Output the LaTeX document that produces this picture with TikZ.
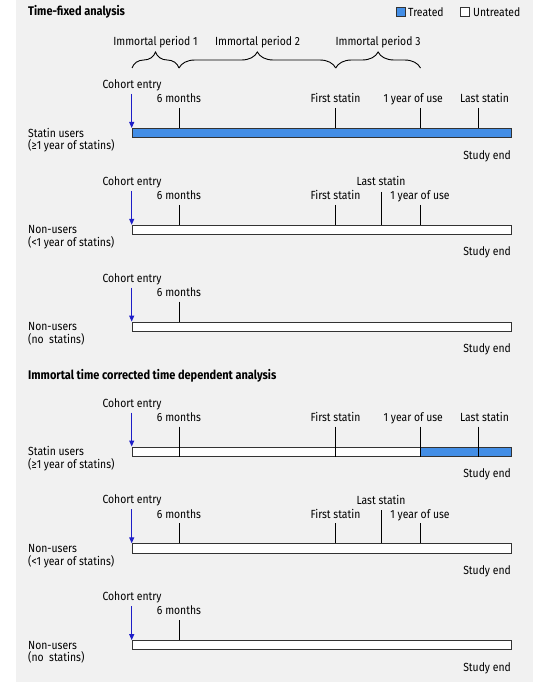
\documentclass[tikz,border=0pt]{standalone}
\usepackage{fontspec}
\setmainfont[FakeStretch=0.88]{Fira Sans}
\usetikzlibrary{arrows.meta,decorations.pathreplacing}
\definecolor{bgc}{RGB}{241,241,241}
\definecolor{treat}{RGB}{67,142,230}
\definecolor{arr}{RGB}{30,30,200}
\begin{document}
\begin{tikzpicture}[x=1pt,y=-1pt,
  font=\fontsize{11.8}{13}\selectfont,
  lbl/.style={inner sep=0, anchor=base},
  rowlbl/.style={inner sep=0, anchor=base west},
  endlbl/.style={inner sep=0, anchor=base east},
  ttl/.style={inner sep=0, anchor=base west, font=\fontsize{12.5}{14}\selectfont\bfseries},
  barnode/.style={draw=black!80, line width=1pt, fill=white, anchor=north west, inner sep=0,
     minimum width=379.3pt, minimum height=9.2pt},
  tck/.style={draw=black, line width=1pt},
  entry/.style={draw=arr, line width=1pt, -{Triangle[width=5pt,length=6pt]}},
  brc/.style={draw=black, line width=0.9pt, decorate, decoration={brace, amplitude=16pt}},
  lgbox/.style={draw=black!80, line width=0.9pt, minimum width=9.5pt, minimum height=8.5pt, inner sep=0}]
\useasboundingbox (0,0) rectangle (533,682);
\fill[bgc] (16,0) rectangle (533,682);
% header
\node[ttl] (t1) at (28,16) {Time-fixed analysis};
\node[lgbox, fill=treat] (lgT) at (400.8,12.2) {};
\node[rowlbl] (lgTt) at (408,16.2) {Treated};
\node[lgbox, fill=white] (lgU) at (464.8,12.2) {};
\node[rowlbl] (lgUt) at (473,16.2) {Untreated};
% immortal periods
\node[lbl] (ip1) at (155.5,45.8) {Immortal period 1};
\node[lbl] (ip2) at (257.5,45.8) {Immortal period 2};
\node[lbl] (ip3) at (378,45.8) {Immortal period 3};
\coordinate (br0) at (132,68);
\coordinate (br1) at (179,68);
\coordinate (br2) at (335.7,68);
\coordinate (br3) at (420.5,68);
\draw[brc] (br0) -- (br1);
\draw[brc] (br1) -- (br2);
\draw[brc] (br2) -- (br3);
% ---------- panel 1
\begin{scope}
\node[barnode, fill=treat] (b1) at (131.7,128) {};
\node[lbl] (ce1) at (132,88.6) {Cohort entry};
\coordinate (a1) at (131.7,94);
\draw[entry] (a1) -- (a1 |- b1.north);
\coordinate (m1) at (179,108);
\coordinate (f1) at (335.7,108);
\coordinate (y1) at (420,108);
\coordinate (l1) at (478.3,108);
\foreach \p in {m1,f1,y1,l1} \draw[tck] (\p) -- (\p |- b1.north);
\node[lbl] (m1t) at (179,102.8) {6 months};
\node[lbl] (f1t) at (335.5,102.8) {First statin};
\node[lbl] (y1t) at (413.3,102.8) {1 year of use};
\node[lbl] (l1t) at (484.5,102.8) {Last statin};
\node[endlbl] (se1) at (511,159.1) {Study end};
\node[rowlbl] (r1a) at (28,137.1) {Statin users};
\node[rowlbl] (r1b) at (28,149.8) {(≥1 year of statins)};
\end{scope}
% ---------- panel 2
\begin{scope}[shift={(0,96.8)}]
\node[barnode] (b2) at (131.7,128) {};
\node[lbl] (ce2) at (132,88.6) {Cohort entry};
\coordinate (a2) at (131.7,94);
\draw[entry] (a2) -- (a2 |- b2.north);
\coordinate (m2) at (179,108);
\coordinate (f2) at (335.7,108);
\coordinate (l2) at (381,95);
\coordinate (y2) at (420,108);
\foreach \p in {m2,f2,l2,y2} \draw[tck] (\p) -- (\p |- b2.north);
\node[lbl] (m2t) at (179,102.8) {6 months};
\node[lbl] (f2t) at (335.5,102.8) {First statin};
\node[lbl] (l2t) at (381,88.9) {Last statin};
\node[lbl] (y2t) at (420,102.8) {1 year of use};
\node[endlbl] (se2) at (511,159.1) {Study end};
\node[rowlbl] (r2a) at (28,137.1) {Non-users};
\node[rowlbl] (r2b) at (28,149.8) {(<1 year of statins)};
\end{scope}
% ---------- panel 3
\begin{scope}[shift={(0,193.6)}]
\node[barnode] (b3) at (131.7,128) {};
\node[lbl] (ce3) at (132,88.6) {Cohort entry};
\coordinate (a3) at (131.7,94);
\draw[entry] (a3) -- (a3 |- b3.north);
\coordinate (m3) at (179,108);
\draw[tck] (m3) -- (m3 |- b3.north);
\node[lbl] (m3t) at (179,102.8) {6 months};
\node[endlbl] (se3) at (511,159.1) {Study end};
\node[rowlbl] (r3a) at (28,137.1) {Non-users};
\node[rowlbl] (r3b) at (28,149.8) {(no\ \ statins)};
\end{scope}
% section 2
\node[ttl] (t2) at (28,379) {Immortal time corrected time dependent analysis};
% ---------- panel 4
\begin{scope}[shift={(0,318.5)}]
\node[barnode] (b4) at (131.7,128) {};
\coordinate (y4) at (420,108);
\fill[treat] (y4 |- b4.north) rectangle (b4.south east);
\node[barnode, fill=none] (b4o) at (131.7,128) {};
\node[lbl] (ce4) at (132,88.6) {Cohort entry};
\coordinate (a4) at (131.7,94);
\draw[entry] (a4) -- (a4 |- b4.north);
\coordinate (m4) at (179,108);
\coordinate (f4) at (335.7,108);
\coordinate (l4) at (478.3,108);
\foreach \p in {m4,f4,y4,l4} \draw[tck] (\p) -- (\p |- b4.south);
\node[lbl] (m4t) at (179,102.8) {6 months};
\node[lbl] (f4t) at (335.5,102.8) {First statin};
\node[lbl] (y4t) at (413.3,102.8) {1 year of use};
\node[lbl] (l4t) at (484.5,102.8) {Last statin};
\node[endlbl] (se4) at (511,159.1) {Study end};
\node[rowlbl] (r4a) at (28,137.1) {Statin users};
\node[rowlbl] (r4b) at (28,149.8) {(≥1 year of statins)};
\end{scope}
% ---------- panel 5
\begin{scope}[shift={(0,415.3)}]
\node[barnode] (b5) at (131.7,128) {};
\node[lbl] (ce5) at (132,88.6) {Cohort entry};
\coordinate (a5) at (131.7,94);
\draw[entry] (a5) -- (a5 |- b5.north);
\coordinate (m5) at (179,108);
\coordinate (f5) at (335.7,108);
\coordinate (l5) at (381,95);
\coordinate (y5) at (420,108);
\foreach \p in {m5,f5,l5,y5} \draw[tck] (\p) -- (\p |- b5.north);
\node[lbl] (m5t) at (179,102.8) {6 months};
\node[lbl] (f5t) at (335.5,102.8) {First statin};
\node[lbl] (l5t) at (381,88.9) {Last statin};
\node[lbl] (y5t) at (420,102.8) {1 year of use};
\node[endlbl] (se5) at (511,159.1) {Study end};
\node[rowlbl] (r5a) at (28,137.1) {Non-users};
\node[rowlbl] (r5b) at (28,149.8) {(<1 year of statins)};
\end{scope}
% ---------- panel 6
\begin{scope}[shift={(0,512.1)}]
\node[barnode] (b6) at (131.7,128) {};
\node[lbl] (ce6) at (132,88.6) {Cohort entry};
\coordinate (a6) at (131.7,94);
\draw[entry] (a6) -- (a6 |- b6.north);
\coordinate (m6) at (179,108);
\draw[tck] (m6) -- (m6 |- b6.north);
\node[lbl] (m6t) at (179,102.8) {6 months};
\node[endlbl] (se6) at (511,159.1) {Study end};
\node[rowlbl] (r6a) at (28,137.1) {Non-users};
\node[rowlbl] (r6b) at (28,149.8) {(no\ \ statins)};
\end{scope}
\end{tikzpicture}
\end{document}
